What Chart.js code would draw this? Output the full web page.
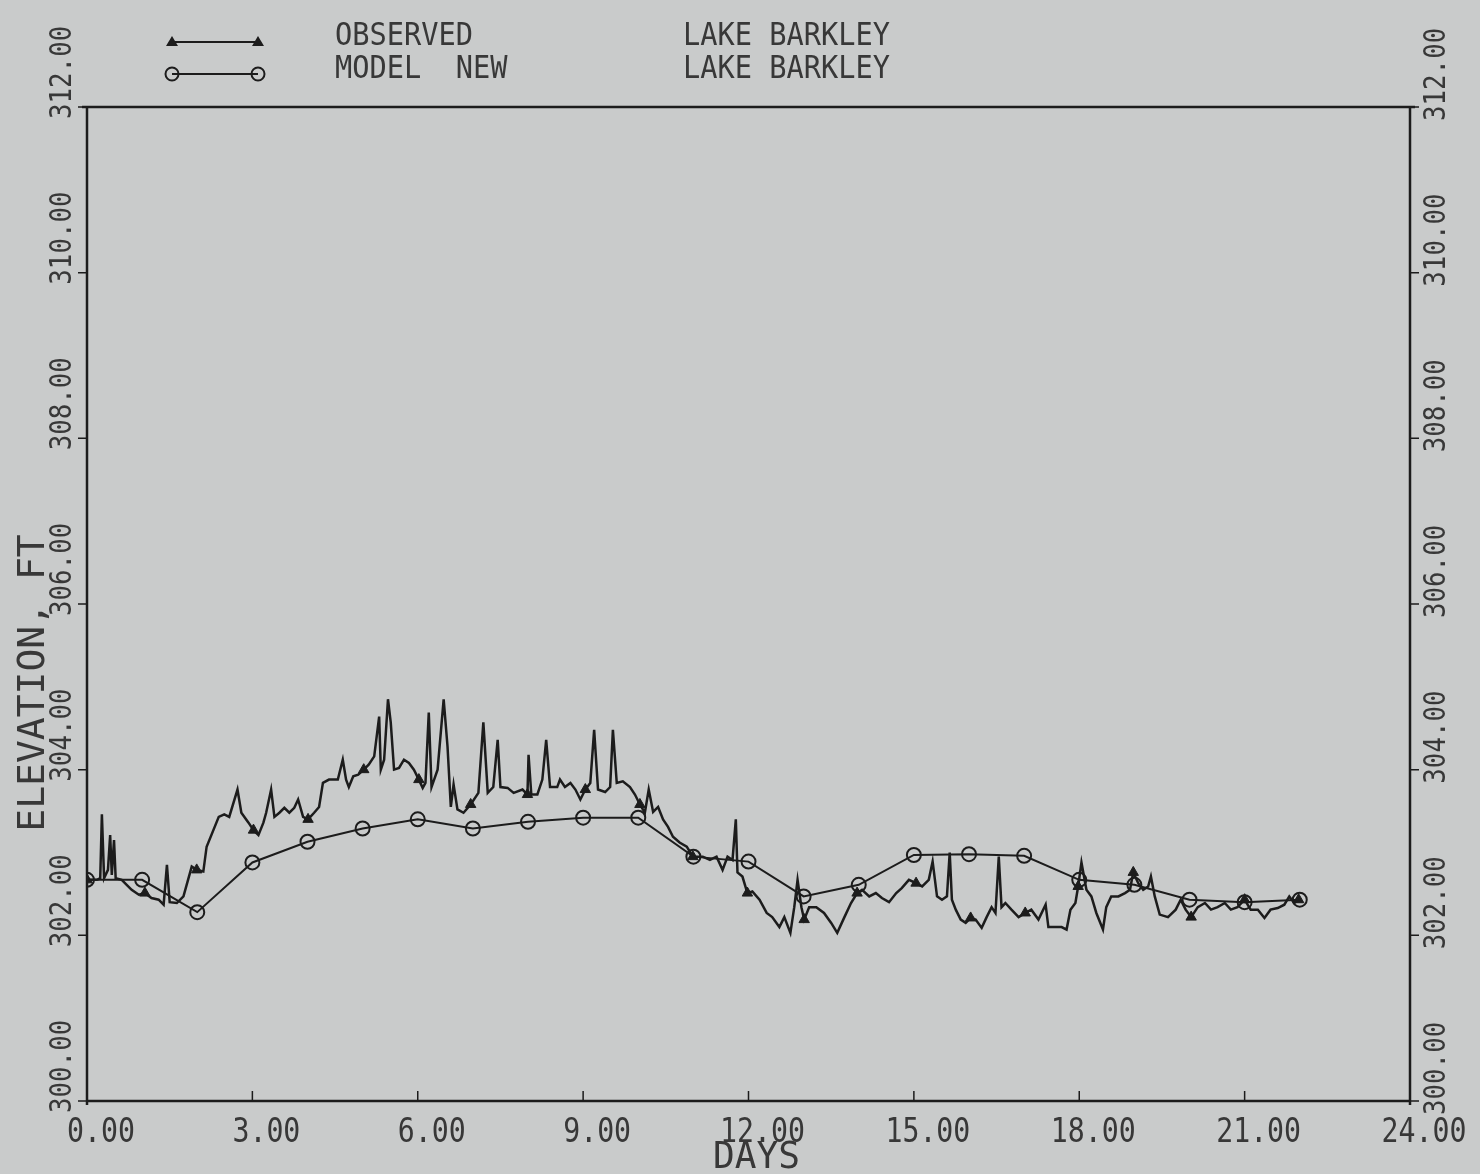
<!DOCTYPE html>
<html>
<head>
<meta charset="utf-8">
<script src="https://cdn.jsdelivr.net/npm/chart.js@4.4.1/dist/chart.umd.min.js"></script>
<style>
html,body{margin:0;padding:0;background:#c9cbcb;}
canvas{display:block;}
</style>
</head>
<body>
<canvas id="chart" width="1480" height="1174" style="width:1480px;height:1174px"></canvas>
<script>
// observed stage (days, ft)
const obsDays = [
0.00,0.18,0.24,0.27,0.31,0.38,0.42,0.45,0.49,0.52,
0.63,0.72,0.81,0.94,1.05,1.17,1.30,1.39,1.45,1.50,
1.63,1.75,1.90,1.99,2.11,2.17,2.39,2.49,2.58,2.73,
2.80,2.93,3.02,3.11,3.20,3.25,3.34,3.40,3.49,3.58,
3.67,3.76,3.83,3.92,4.01,4.12,4.21,4.28,4.39,4.55,
4.64,4.70,4.75,4.83,4.92,5.02,5.11,5.21,5.30,5.33,
5.39,5.46,5.51,5.57,5.66,5.75,5.84,5.93,6.02,6.09,
6.14,6.20,6.25,6.36,6.47,6.54,6.60,6.65,6.72,6.83,
6.96,7.10,7.19,7.27,7.37,7.45,7.50,7.63,7.74,7.90,
7.99,8.01,8.06,8.17,8.26,8.33,8.40,8.53,8.58,8.67,
8.77,8.86,8.95,9.04,9.13,9.20,9.27,9.40,9.49,9.54,
9.61,9.72,9.85,9.94,10.03,10.12,10.19,10.27,10.36,10.45,
10.54,10.63,10.75,10.88,10.99,11.06,11.17,11.30,11.42,11.53,
11.62,11.71,11.77,11.80,11.89,11.98,12.07,12.20,12.33,12.43,
12.56,12.65,12.76,12.83,12.89,12.96,13.01,13.10,13.23,13.37,
13.50,13.61,13.74,13.86,13.97,14.06,14.19,14.31,14.42,14.55,
14.68,14.78,14.91,15.04,15.15,15.27,15.34,15.42,15.51,15.60,
15.65,15.69,15.76,15.85,15.94,16.03,16.12,16.23,16.32,16.41,
16.48,16.54,16.59,16.66,16.77,16.90,17.02,17.13,17.26,17.39,
17.44,17.57,17.68,17.77,17.84,17.93,17.98,18.04,18.13,18.22,
18.31,18.43,18.49,18.58,18.71,18.83,18.92,18.98,19.07,19.16,
19.25,19.30,19.37,19.46,19.61,19.75,19.84,19.93,20.03,20.15,
20.28,20.39,20.51,20.64,20.75,20.87,21.00,21.11,21.24,21.36,
21.47,21.60,21.72,21.81,21.90,21.98
];
const obsElev = [
302.67,302.67,302.69,303.46,302.69,302.79,303.21,302.73,303.15,302.69,
302.67,302.61,302.55,302.49,302.51,302.45,302.43,302.37,302.85,302.40,
302.39,302.47,302.83,302.79,302.77,303.07,303.43,303.46,303.43,303.76,
303.48,303.36,303.27,303.21,303.36,303.48,303.76,303.43,303.48,303.54,
303.48,303.54,303.64,303.43,303.40,303.48,303.55,303.84,303.88,303.88,
304.12,303.88,303.79,303.92,303.94,304.00,304.06,304.16,304.64,304.00,
304.12,304.85,304.57,304.00,304.02,304.12,304.08,304.00,303.88,303.78,
303.84,304.69,303.79,304.00,304.85,304.28,303.55,303.82,303.52,303.48,
303.58,303.72,304.57,303.72,303.79,304.36,303.79,303.78,303.72,303.76,
303.70,304.18,303.70,303.70,303.88,304.36,303.79,303.79,303.88,303.79,
303.84,303.76,303.64,303.76,303.84,304.48,303.76,303.73,303.79,304.48,
303.84,303.86,303.79,303.70,303.58,303.48,303.76,303.49,303.55,303.40,
303.31,303.19,303.12,303.07,302.95,302.95,302.95,302.91,302.95,302.79,
302.95,302.91,303.40,302.76,302.71,302.51,302.53,302.43,302.27,302.22,
302.10,302.22,302.03,302.34,302.67,302.34,302.19,302.34,302.34,302.27,
302.15,302.03,302.22,302.39,302.51,302.55,302.47,302.51,302.45,302.40,
302.51,302.57,302.67,302.63,302.59,302.67,302.89,302.47,302.43,302.47,
303.00,302.43,302.31,302.19,302.15,302.21,302.19,302.09,302.22,302.34,
302.27,302.95,302.34,302.39,302.31,302.22,302.27,302.31,302.19,302.37,
302.10,302.10,302.10,302.07,302.31,302.39,302.59,302.88,302.55,302.47,
302.27,302.07,302.34,302.47,302.47,302.51,302.55,302.76,302.63,302.55,
302.59,302.71,302.47,302.25,302.22,302.31,302.43,302.31,302.22,302.34,
302.39,302.31,302.34,302.39,302.31,302.34,302.43,302.31,302.31,302.21,
302.31,302.33,302.37,302.47,302.39,302.43
];

// model run, one value per day
const modelDays = [0,1,2,3,4,5,6,7,8,9,10,11,12,13,14,15,16,17,18,19,20,21,22];
const modelElev = [302.67,302.67,302.28,302.88,303.13,303.29,303.40,303.29,303.37,303.42,303.42,
  302.95,302.89,302.47,302.61,302.97,302.98,302.96,302.67,302.61,302.43,302.40,302.43];

const seriesNames = ['OBSERVED', 'MODEL  NEW'];
const siteNames = ['LAKE BARKLEY', 'LAKE BARKLEY'];
const xTitle = 'DAYS';
const yTitle = 'ELEVATION, FT';

const INK = '#1c1c1c';
const TXT = '#383838';
const BG = '#c9cbcb';
const FONT = '"DejaVu Sans Mono", "Liberation Mono", monospace';

// triangles sit on the observed point nearest each whole day
const markIdx = new Set();
for (let d = 0; d <= 22; d++) {
  let best = 0;
  obsDays.forEach((v, i) => { if (Math.abs(v - d) < Math.abs(obsDays[best] - d)) best = i; });
  markIdx.add(best);
}

function text(ctx, s, x, y, size, sx, align, base, rot) {
  ctx.save();
  ctx.translate(x, y);
  if (rot) ctx.rotate(rot);
  ctx.scale(sx, 1);
  ctx.font = size + 'px ' + FONT;
  ctx.fillStyle = TXT;
  ctx.textAlign = align;
  ctx.textBaseline = base;
  ctx.fillText(s, 0, 0);
  ctx.restore();
}

const frame = {
  id: 'frame',
  beforeDraw(chart) {
    const ctx = chart.ctx;
    ctx.save();
    ctx.fillStyle = BG;
    ctx.fillRect(0, 0, chart.width, chart.height);
    ctx.restore();
  },
  afterDraw(chart) {
    const ctx = chart.ctx;
    const a = chart.chartArea;
    const xs = chart.scales.x, ys = chart.scales.y, ys2 = chart.scales.y2;
    ctx.save();
    ctx.strokeStyle = INK;
    ctx.lineWidth = 2.5;
    ctx.beginPath();
    ctx.moveTo(a.left - 5, a.top); ctx.lineTo(a.right + 5, a.top);
    ctx.moveTo(a.left, a.top); ctx.lineTo(a.left, a.bottom + 4);
    ctx.moveTo(a.right, a.top); ctx.lineTo(a.right, a.bottom + 4);
    ctx.moveTo(a.left, a.bottom); ctx.lineTo(a.right, a.bottom);
    ctx.stroke();
    ctx.lineWidth = 1.5;
    ctx.beginPath();
    ys.ticks.forEach(t => {
      const py = ys.getPixelForValue(t.value);
      ctx.moveTo(a.left - 9, py); ctx.lineTo(a.left, py);
    });
    ys2.ticks.forEach(t => {
      const py = ys2.getPixelForValue(t.value);
      ctx.moveTo(a.right, py); ctx.lineTo(a.right + 9, py);
    });
    xs.ticks.forEach(t => {
      const px = xs.getPixelForValue(t.value);
      ctx.moveTo(px, a.bottom); ctx.lineTo(px, a.bottom - 10);
    });
    ctx.stroke();
    ctx.restore();

    // tick labels
    xs.ticks.forEach(t => {
      text(ctx, t.value.toFixed(2), xs.getPixelForValue(t.value) + 14, a.bottom + 41, 34, 0.83, 'center', 'alphabetic');
    });
    ys.ticks.forEach(t => {
      text(ctx, t.value.toFixed(2), 63, ys.getPixelForValue(t.value) + 12, 30, 0.86, 'left', 'middle', -Math.PI / 2);
    });
    ys2.ticks.forEach(t => {
      text(ctx, t.value.toFixed(2), 1437, ys2.getPixelForValue(t.value) + 14, 30, 0.86, 'left', 'middle', -Math.PI / 2);
    });

    // axis titles
    text(ctx, xTitle, (a.left + a.right) / 2 + 8, 1168, 38, 0.95, 'center', 'alphabetic');
    text(ctx, yTitle, 34, 683, 38, 1, 'center', 'middle', -Math.PI / 2);

    // legend
    ctx.save();
    ctx.strokeStyle = INK;
    ctx.fillStyle = INK;
    ctx.lineWidth = 2;
    ctx.beginPath();
    ctx.moveTo(172, 42); ctx.lineTo(258, 42);
    ctx.moveTo(172, 74); ctx.lineTo(258, 74);
    ctx.stroke();
    [172, 258].forEach(x => {
      ctx.beginPath();
      ctx.moveTo(x, 36); ctx.lineTo(x + 6, 46); ctx.lineTo(x - 6, 46); ctx.closePath();
      ctx.fill();
      ctx.beginPath();
      ctx.arc(x, 74, 6.5, 0, Math.PI * 2);
      ctx.stroke();
    });
    ctx.restore();
    seriesNames.forEach((s, i) => text(ctx, s, 335, 45 + i * 33, 31.5, 0.91, 'left', 'alphabetic'));
    siteNames.forEach((s, i) => text(ctx, s, 683, 45 + i * 33, 31.5, 0.91, 'left', 'alphabetic'));
  }
};

new Chart(document.getElementById('chart'), {
  type: 'line',
  data: {
    datasets: [
      {
        label: seriesNames[0],
        data: obsDays.map((d, i) => ({ x: d, y: obsElev[i] })),
        borderColor: INK,
        borderWidth: 2.5,
        tension: 0,
        pointStyle: 'triangle',
        pointRadius: c => markIdx.has(c.dataIndex) ? 6 : 0,
        pointBackgroundColor: INK,
        pointBorderColor: INK,
        pointBorderWidth: 1,
        yAxisID: 'y'
      },
      {
        label: seriesNames[1],
        data: modelDays.map((d, i) => ({ x: d, y: modelElev[i] })),
        borderColor: INK,
        borderWidth: 2,
        tension: 0,
        pointStyle: 'circle',
        pointRadius: 7,
        pointBorderWidth: 2,
        pointBorderColor: INK,
        pointBackgroundColor: 'rgba(0,0,0,0)',
        yAxisID: 'y'
      }
    ]
  },
  options: {
    responsive: false,
    animation: false,
    devicePixelRatio: 1,
    layout: { padding: { top: 107, left: 0, right: 0, bottom: 0 } },
    plugins: { legend: { display: false }, tooltip: { enabled: false } },
    scales: {
      x: {
        type: 'linear', min: 0, max: 24,
        ticks: { stepSize: 3, display: false },
        grid: { display: false }, border: { display: false },
        afterFit: s => { s.height = 73; }
      },
      y: {
        position: 'left', min: 300, max: 312,
        ticks: { stepSize: 2, display: false },
        grid: { display: false }, border: { display: false },
        afterFit: s => { s.width = 87; }
      },
      y2: {
        position: 'right', min: 300, max: 312,
        ticks: { stepSize: 2, display: false },
        grid: { display: false }, border: { display: false },
        afterFit: s => { s.width = 70; }
      }
    }
  },
  plugins: [frame]
});
</script>
</body>
</html>
